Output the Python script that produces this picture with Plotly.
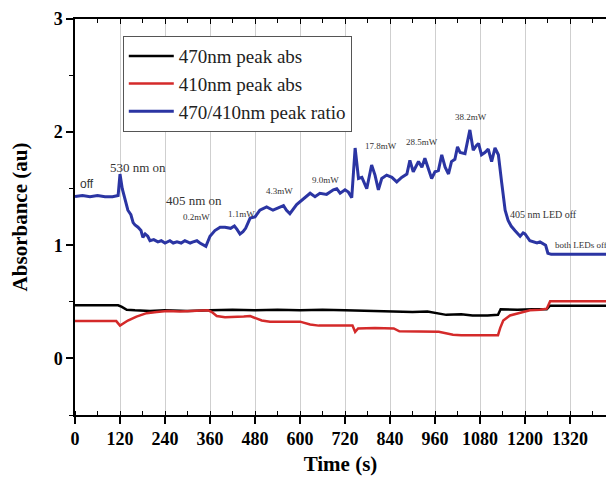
import plotly.graph_objects as go

# ---- data ----
t_ratio = [0, 20, 40, 60, 80, 100, 115, 120, 126, 133, 141, 149, 155, 160, 168, 176, 181, 187, 194, 200,
           210, 221, 230, 240, 253, 262, 272, 283, 293, 300, 307, 315, 325, 333, 340, 349, 360, 373, 387, 400,
           415, 425, 432, 440, 448, 455, 467, 480, 493, 511, 528, 547, 556, 564, 573, 591, 609, 627, 640, 653,
           671, 689, 698, 707, 720, 729, 738, 747, 756, 765, 778, 791, 800, 809, 818, 831, 845, 858, 871, 885,
           893, 902, 916, 925, 933, 942, 951, 960, 969, 978, 987, 996, 1004, 1013, 1020, 1027, 1040, 1053, 1062, 1070,
           1076, 1084, 1093, 1102, 1111, 1120, 1129, 1138, 1147, 1155, 1163, 1173, 1180, 1187, 1195, 1200, 1213, 1222, 1232, 1240,
           1248, 1255, 1261, 1270, 1300, 1340, 1380, 1416]
ratio = [1.43, 1.44, 1.43, 1.44, 1.43, 1.43, 1.44, 1.63, 1.50, 1.40, 1.31, 1.27, 1.20, 1.18, 1.16, 1.13, 1.07, 1.10, 1.08, 1.04,
         1.05, 1.03, 1.04, 1.02, 1.04, 1.02, 1.03, 1.02, 1.04, 1.03, 1.02, 1.03, 1.04, 1.02, 1.01, 0.99, 1.08, 1.13, 1.16, 1.16,
         1.15, 1.17, 1.14, 1.10, 1.12, 1.15, 1.24, 1.25, 1.31, 1.34, 1.31, 1.34, 1.35, 1.31, 1.28, 1.36, 1.41, 1.46, 1.43, 1.46,
         1.45, 1.49, 1.50, 1.46, 1.49, 1.47, 1.42, 1.86, 1.59, 1.60, 1.50, 1.71, 1.62, 1.49, 1.59, 1.62, 1.60, 1.56, 1.60, 1.63,
         1.75, 1.65, 1.74, 1.69, 1.77, 1.67, 1.59, 1.65, 1.66, 1.80, 1.69, 1.63, 1.74, 1.76, 1.87, 1.82, 1.81, 2.02, 1.84, 1.88,
         1.90, 1.80, 1.82, 1.85, 1.74, 1.86, 1.80, 1.55, 1.31, 1.22, 1.17, 1.13, 1.10, 1.08, 1.11, 1.10, 1.04, 1.03, 1.02, 1.03,
         1.01, 1.00, 0.93, 0.92, 0.92, 0.92, 0.92, 0.92]

t_470 = [0, 60, 115, 125, 138, 160, 200, 240, 300, 360, 420, 480, 540, 600, 660, 720, 780, 840, 900, 940,
         970, 990, 1030, 1060, 1100, 1128, 1135, 1180, 1220, 1258, 1266, 1300, 1416]
abs_470 = [0.47, 0.47, 0.47, 0.455, 0.43, 0.425, 0.42, 0.425, 0.42, 0.425, 0.43, 0.425, 0.43, 0.425, 0.43, 0.425, 0.42, 0.42, 0.41, 0.415,
           0.40, 0.385, 0.39, 0.38, 0.38, 0.385, 0.435, 0.43, 0.435, 0.435, 0.465, 0.465, 0.465]

t_410 = [0, 60, 110, 120, 130, 141, 164, 191, 218, 245, 280, 320, 355, 365, 378, 400, 430, 450, 467, 485,
         498, 520, 560, 600, 627, 650, 700, 740, 747, 755, 800, 850, 865, 920, 970, 1008, 1030, 1080, 1128, 1134,
         1142, 1160, 1187, 1213, 1240, 1258, 1267, 1300, 1416]
abs_410 = [0.33, 0.33, 0.33, 0.29, 0.31, 0.335, 0.37, 0.40, 0.41, 0.42, 0.415, 0.42, 0.425, 0.41, 0.375, 0.365, 0.365, 0.37, 0.375, 0.35,
           0.335, 0.325, 0.325, 0.325, 0.30, 0.29, 0.29, 0.29, 0.235, 0.265, 0.27, 0.265, 0.24, 0.235, 0.235, 0.21, 0.205, 0.205, 0.205, 0.27,
           0.335, 0.38, 0.405, 0.425, 0.43, 0.44, 0.505, 0.505, 0.505]

x_ticks = [0, 120, 240, 360, 480, 600, 720, 840, 960, 1080, 1200, 1320]
y_ticks = [0, 1, 2, 3]

notes = [
    ("off", 33, 1.54, 12, "sans"),
    ("530 nm on", 169, 1.69, 13, "serif"),
    ("405 nm on", 316, 1.40, 13, "serif"),
    ("0.2mW", 323, 1.25, 9, "serif"),
    ("1.1mW", 444, 1.28, 9, "serif"),
    ("4.3mW", 544, 1.48, 9, "serif"),
    ("9.0mW", 668, 1.58, 9, "serif"),
    ("17.8mW", 816, 1.88, 9, "serif"),
    ("28.5mW", 924, 1.91, 9, "serif"),
    ("38.2mW", 1057, 2.13, 9, "serif"),
    ("405 nm LED off", 1249, 1.27, 10, "serif"),
]
note_left = ("both LEDs off", 1275, 1.0, 9)

SERIF = "Liberation Serif"
SANS = "Liberation Sans"

fig = go.Figure()
fig.add_trace(go.Scatter(x=t_470, y=abs_470, mode="lines", name="470nm peak abs",
                         line=dict(color="#000000", width=2.5)))
fig.add_trace(go.Scatter(x=t_410, y=abs_410, mode="lines", name="410nm peak abs",
                         line=dict(color="#d42a2a", width=2.5)))
fig.add_trace(go.Scatter(x=t_ratio, y=ratio, mode="lines", name="470/410nm peak ratio",
                         line=dict(color="#2b35a3", width=3)))
# helper trace for the top (mirrored) axis
fig.add_trace(go.Scatter(x=t_470, y=abs_470, mode="lines", xaxis="x2", showlegend=False,
                         hoverinfo="skip", opacity=0, line=dict(width=0)))

for txt, x, y, s, fam in notes:
    fig.add_annotation(x=x, y=y, text=txt, showarrow=False, xanchor="center", yanchor="middle",
                       font=dict(family=SANS if fam == "sans" else SERIF, size=s, color="#333333"))
fig.add_annotation(x=note_left[1], y=note_left[2], text=note_left[0], showarrow=False,
                   xanchor="left", yanchor="middle", font=dict(family=SERIF, size=note_left[3], color="#333333"))

XR = [0, 1416]
fig.update_layout(
    width=606, height=481,
    margin=dict(l=75, r=0, t=19, b=66),
    plot_bgcolor="white", paper_bgcolor="white",
    showlegend=True,
    legend=dict(x=0.09, y=0.957, xanchor="left", yanchor="top",
                bgcolor="white", bordercolor="#555555", borderwidth=1,
                font=dict(family=SERIF, size=19, color="#222222"),
                tracegroupgap=0, itemwidth=45),
    xaxis=dict(range=XR, tickvals=x_ticks, ticktext=[str(v) for v in x_ticks],
               showgrid=True, gridcolor="#cfcfcf", gridwidth=1, zeroline=False,
               showline=True, linecolor="#000000", linewidth=1.5,
               ticks="outside", ticklen=7, tickwidth=1.5, tickcolor="#000000",
               minor=dict(dtick=60, tick0=0, ticks="inside", ticklen=4, tickwidth=1.2, tickcolor="#000000", showgrid=False),
               tickfont=dict(family=SERIF, size=18, color="#000000", weight="bold"),
               title=dict(text="Time (s)", font=dict(family=SERIF, size=21, color="#000000", weight="bold"), standoff=8)),
    xaxis2=dict(range=XR, overlaying="x", side="top", anchor="y", showticklabels=False,
                tickvals=x_ticks, showgrid=False, zeroline=False,
                showline=True, linecolor="#000000", linewidth=1.5,
                ticks="inside", ticklen=5, tickwidth=1.2, tickcolor="#000000",
                minor=dict(dtick=60, tick0=0, ticks="inside", ticklen=4, tickwidth=1.2, tickcolor="#000000")),
    yaxis=dict(range=[-0.5, 3], tickvals=y_ticks, ticktext=[str(v) for v in y_ticks],
               showgrid=False, zeroline=False,
               showline=True, linecolor="#000000", linewidth=1.5,
               ticks="outside", ticklen=7, tickwidth=1.5, tickcolor="#000000",
               minor=dict(dtick=0.5, tick0=0, ticks="outside", ticklen=4, tickwidth=1.2, tickcolor="#000000"),
               tickfont=dict(family=SERIF, size=18, color="#000000", weight="bold"),
               title=dict(text="Absorbance (au)", font=dict(family=SERIF, size=21, color="#000000", weight="bold"), standoff=20)),
)

fig.write_html("out.html")
